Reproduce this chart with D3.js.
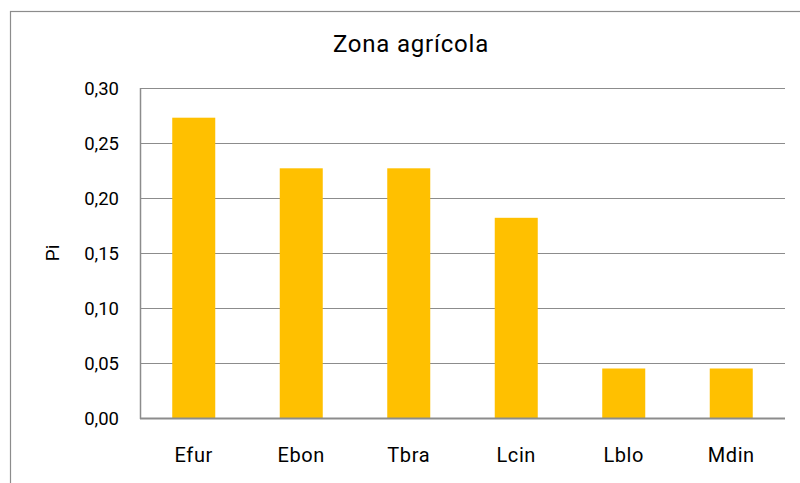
<!DOCTYPE html>
<html>
<head>
<meta charset="utf-8">
<script src="https://cdn.jsdelivr.net/npm/d3@7"></script>
<style>
  body { margin: 0; background: #fff; }
  text { font-family: Roboto, "Open Sans", sans-serif; fill: #000; }
</style>
</head>
<body>
<div id="chart"></div>
<script>
// Data ----------------------------------------------
const species = ["Efur", "Ebon", "Tbra", "Lcin", "Lblo", "Mdin"];
const piValues = [0.273, 0.227, 0.227, 0.182, 0.045, 0.045];
const yTicks = [0, 0.05, 0.10, 0.15, 0.20, 0.25, 0.30];

// Constants ----------------------------------------------
const width = 800;
const height = 483;
const margin = {left: 140, right: 15, top: 88, bottom: 65};
const barColor = "#FFC000";
const gridColor = "#8c8c8c";

const svg = d3.select("#chart")
  .append("svg")
  .attr("width", width)
  .attr("height", height);

// outer frame (runs off the right and bottom)
svg.append("rect")
  .attr("x", 10.5).attr("y", 11.5)
  .attr("width", 900).attr("height", 600)
  .attr("fill", "none")
  .attr("stroke", "#8c8c8c")
  .attr("stroke-width", 1.2);

// Scales ----------------------------------------------
const xScale = d3.scaleBand()
  .domain(species)
  .range([margin.left, width - margin.right])
  .paddingInner(0.6)
  .paddingOuter(0.3);

const yScale = d3.scaleLinear()
  .domain([0, 0.30])
  .range([height - margin.bottom, margin.top]);

const fmt = d => d3.format(".2f")(d).replace(".", ",");

// Gridlines
svg.append("g")
  .selectAll("line")
  .data(yTicks.slice(1))
  .enter()
  .append("line")
  .attr("x1", margin.left)
  .attr("x2", width - margin.right)
  .attr("y1", d => Math.round(yScale(d)) + 0.5)
  .attr("y2", d => Math.round(yScale(d)) + 0.5)
  .attr("stroke", gridColor)
  .attr("stroke-width", 1.2);

// Bars
svg.append("g")
  .selectAll("rect")
  .data(species)
  .enter()
  .append("rect")
  .attr("x", d => xScale(d))
  .attr("width", xScale.bandwidth())
  .attr("y", (d, i) => yScale(piValues[i]))
  .attr("height", (d, i) => yScale(0) - yScale(piValues[i]))
  .attr("fill", barColor);

// Axes lines
svg.append("line")
  .attr("x1", margin.left + 0.5).attr("x2", margin.left + 0.5)
  .attr("y1", yScale(0.30)).attr("y2", yScale(0) + 1)
  .attr("stroke", gridColor).attr("stroke-width", 1.5);
svg.append("line")
  .attr("x1", margin.left).attr("x2", width - margin.right)
  .attr("y1", yScale(0) + 0.5).attr("y2", yScale(0) + 0.5)
  .attr("stroke", gridColor).attr("stroke-width", 1.8);

// Y tick labels
svg.append("g")
  .selectAll("text")
  .data(yTicks)
  .enter()
  .append("text")
  .attr("x", 119)
  .attr("y", d => yScale(d) + 6.5)
  .attr("text-anchor", "end")
  .style("font-size", "18.5px")
  .text(fmt);

// X labels
svg.append("g")
  .selectAll("text")
  .data(species)
  .enter()
  .append("text")
  .attr("x", d => xScale(d) + xScale.bandwidth() / 2)
  .attr("y", 462)
  .attr("text-anchor", "middle")
  .style("font-size", "20px")
  .style("letter-spacing", "0.6px")
  .text(d => d);

// Axis title
svg.append("text")
  .attr("transform", "translate(59," + 253 + ") rotate(-90)")
  .attr("text-anchor", "middle")
  .style("font-size", "19px")
  .text("Pi");

// Chart title
svg.append("text")
  .attr("x", 411)
  .attr("y", 52)
  .attr("text-anchor", "middle")
  .style("font-size", "24px")
  .style("letter-spacing", "0.8px")
  .text("Zona agrícola");
</script>
</body>
</html>
